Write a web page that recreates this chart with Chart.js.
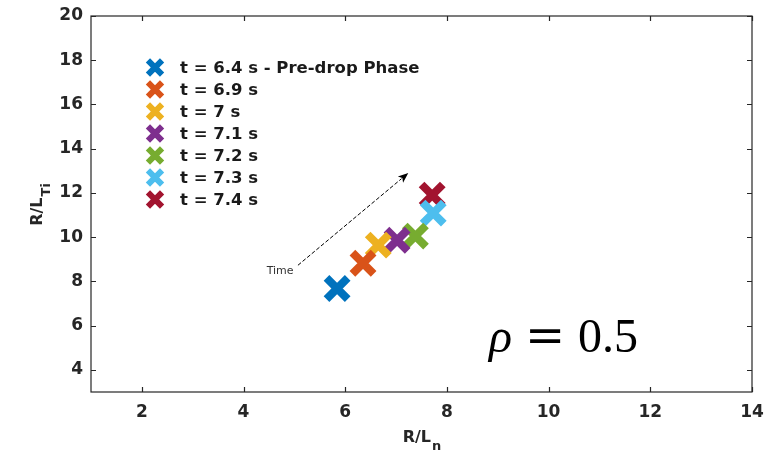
<!DOCTYPE html>
<html>
<head>
<meta charset="utf-8">
<script src="https://cdn.jsdelivr.net/npm/chart.js@4.4.0/dist/chart.umd.min.js"></script>
<style>
  html, body { margin: 0; padding: 0; background: #fff; }
  #wrap { width: 779px; height: 455px; }
</style>
</head>
<body>
<div id="wrap"><canvas id="chart"></canvas></div>
<script>
// time slices and their gradients
const timeLabels = ['t = 6.4 s - Pre-drop Phase', 't = 6.9 s', 't = 7 s', 't = 7.1 s', 't = 7.2 s', 't = 7.3 s', 't = 7.4 s'];
const rOverLn = [5.84, 6.35, 6.65, 7.02, 7.38, 7.73, 7.71];
const rOverLTi = [7.68, 8.82, 9.64, 9.86, 10.05, 11.09, 11.9];
const colors = ['#0072BD', '#D95319', '#EDB120', '#7E2F8E', '#77AC30', '#4DBEEE', '#A2142F'];

const xTicks = [2, 4, 6, 8, 10, 12, 14];
const yTicks = [4, 6, 8, 10, 12, 14, 16, 18, 20];

// "Time" arrow, in data units
const arrowFrom = { x: 5.07, y: 8.73 };
const arrowTo = { x: 7.24, y: 12.9 };
const arrowText = { x: 4.72, y: 8.45, text: 'Time' };

const axisColor = '#262626';
const fontFamily = '"DejaVu Sans", sans-serif';

const datasets = timeLabels.map((label, i) => ({
    label: label,
    data: [{ x: rOverLn[i], y: rOverLTi[i] }],
    borderColor: colors[i],
    backgroundColor: colors[i],
    pointStyle: 'crossRot',
    pointRadius: 15,
    pointHoverRadius: 15,
    pointBorderWidth: 8,
    pointHoverBorderWidth: 8
}));

const decorations = {
    id: 'decorations',
    beforeDatasetsDraw(chart) {
        const { ctx, chartArea: a, scales: { x, y } } = chart;
        ctx.save();
        // box
        ctx.strokeStyle = axisColor;
        ctx.lineWidth = 1.2;
        ctx.strokeRect(a.left, a.top, a.right - a.left, a.bottom - a.top);
        // inward ticks on all four sides
        const len = 5;
        ctx.beginPath();
        xTicks.forEach(v => {
            const px = Math.round(x.getPixelForValue(v)) + 0.5;
            ctx.moveTo(px, a.bottom); ctx.lineTo(px, a.bottom - len);
            ctx.moveTo(px, a.top); ctx.lineTo(px, a.top + len);
        });
        yTicks.forEach(v => {
            const py = Math.round(y.getPixelForValue(v)) + 0.5;
            ctx.moveTo(a.left, py); ctx.lineTo(a.left + len, py);
            ctx.moveTo(a.right, py); ctx.lineTo(a.right - len, py);
        });
        ctx.stroke();

        // arrow
        const x1 = x.getPixelForValue(arrowFrom.x), y1 = y.getPixelForValue(arrowFrom.y);
        const x2 = x.getPixelForValue(arrowTo.x), y2 = y.getPixelForValue(arrowTo.y);
        const ang = Math.atan2(y2 - y1, x2 - x1);
        const head = 11;
        ctx.strokeStyle = '#000';
        ctx.fillStyle = '#000';
        ctx.lineWidth = 1;
        ctx.setLineDash([4, 2]);
        ctx.beginPath();
        ctx.moveTo(x1, y1);
        ctx.lineTo(x2 - Math.cos(ang) * head * 0.8, y2 - Math.sin(ang) * head * 0.8);
        ctx.stroke();
        ctx.setLineDash([]);
        ctx.beginPath();
        ctx.moveTo(x2, y2);
        ctx.lineTo(x2 - head * Math.cos(ang - 0.38), y2 - head * Math.sin(ang - 0.38));
        ctx.lineTo(x2 - head * 0.7 * Math.cos(ang), y2 - head * 0.7 * Math.sin(ang));
        ctx.lineTo(x2 - head * Math.cos(ang + 0.38), y2 - head * Math.sin(ang + 0.38));
        ctx.closePath();
        ctx.fill();

        ctx.fillStyle = '#333';
        ctx.font = '11px ' + fontFamily;
        ctx.textAlign = 'center';
        ctx.textBaseline = 'middle';
        ctx.fillText(arrowText.text, x.getPixelForValue(arrowText.x), y.getPixelForValue(arrowText.y));
        ctx.restore();
    },
    afterDraw(chart) {
        const { ctx, chartArea: a } = chart;
        ctx.save();
        // legend inside the axes
        const lx = 155, ly = 67.5, step = 22;
        ctx.font = 'bold 16.5px ' + fontFamily;
        ctx.textAlign = 'left';
        ctx.textBaseline = 'middle';
        timeLabels.forEach((label, i) => {
            ctx.strokeStyle = colors[i];
            ctx.fillStyle = colors[i];
            ctx.lineWidth = 6;
            Chart.helpers.drawPoint(ctx, { pointStyle: 'crossRot', radius: 10, borderWidth: 6, rotation: 0 }, lx, ly + i * step);
            ctx.fillStyle = '#1a1a1a';
            ctx.fillText(label, 180, ly + i * step + 1);
        });

        // axis titles with subscripts
        ctx.fillStyle = axisColor;
        ctx.font = 'bold 16px ' + fontFamily;
        ctx.textBaseline = 'alphabetic';
        const cx = (a.left + a.right) / 2;
        const main = 'R/L', sub = 'n';
        const wMain = ctx.measureText(main).width;
        ctx.font = 'bold 13px ' + fontFamily;
        const wSub = ctx.measureText(sub).width;
        const startX = cx - (wMain + wSub) / 2;
        ctx.font = 'bold 16px ' + fontFamily;
        ctx.fillText(main, startX, 442);
        ctx.font = 'bold 13px ' + fontFamily;
        ctx.fillText(sub, startX + wMain + 1, 450);

        ctx.save();
        ctx.translate(42, 205);
        ctx.rotate(-Math.PI / 2);
        ctx.font = 'bold 16px ' + fontFamily;
        const yMain = 'R/L', ySub = 'Ti';
        const wy = ctx.measureText(yMain).width;
        ctx.font = 'bold 13px ' + fontFamily;
        const wys = ctx.measureText(ySub).width;
        const sx = -(wy + wys) / 2;
        ctx.font = 'bold 16px ' + fontFamily;
        ctx.fillText(yMain, sx, 0);
        ctx.font = 'bold 13px ' + fontFamily;
        ctx.fillText(ySub, sx + wy + 1, 8);
        ctx.restore();

        // rho annotation
        ctx.fillStyle = '#000';
        ctx.textBaseline = 'alphabetic';
        ctx.font = 'italic 48px "Liberation Serif", serif';
        ctx.fillText('ρ', 489, 352);
        ctx.font = '48px "DejaVu Serif", serif';
        ctx.fillText('=', 525, 352);
        ctx.font = '48px "Liberation Serif", serif';
        ctx.fillText('0.5', 578, 352);
        ctx.restore();
    }
};

new Chart(document.getElementById('chart'), {
    type: 'scatter',
    data: { datasets: datasets },
    options: {
        responsive: true,
        maintainAspectRatio: false,
        animation: false,
        events: [],
        layout: { autoPadding: false, padding: { top: 16, right: 27, left: 0, bottom: 0 } },
        scales: {
            x: {
                type: 'linear',
                min: 1,
                max: 14,
                afterBuildTicks: scale => { scale.ticks = xTicks.map(v => ({ value: v })); },
                afterFit: scale => {
                    scale.height = 63;
                    scale.paddingLeft = 0;
                    scale.paddingRight = 0;
                },
                grid: { display: false, drawTicks: false },
                border: { display: false },
                ticks: {
                    color: axisColor,
                    padding: 10,
                    font: { family: fontFamily, size: 17, weight: 'bold' }
                }
            },
            y: {
                type: 'linear',
                min: 3,
                max: 20,
                afterBuildTicks: scale => { scale.ticks = yTicks.map(v => ({ value: v })); },
                afterFit: scale => {
                    scale.width = 91;
                    scale.paddingTop = 0;
                    scale.paddingBottom = 0;
                },
                grid: { display: false, drawTicks: false },
                border: { display: false },
                ticks: {
                    color: axisColor,
                    padding: 8,
                    font: { family: fontFamily, size: 17, weight: 'bold' }
                }
            }
        },
        plugins: {
            legend: { display: false },
            tooltip: { enabled: false }
        }
    },
    plugins: [decorations]
});
</script>
</body>
</html>
